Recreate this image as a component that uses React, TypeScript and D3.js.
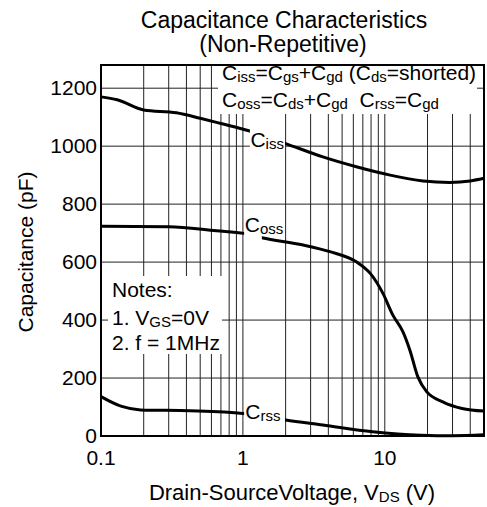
import React from 'react';
import * as d3 from 'd3';

// capacitance curves (V_DS in volts, C in pF)
const issVolts = [0.1, 0.13, 0.2, 0.34, 0.5, 0.7, 1.1, 2, 3.66, 6.3, 10.9, 18.6, 28.7, 40, 50];
const issValues = [1170, 1160, 1125, 1115, 1096, 1078, 1053, 1009, 963, 929, 900, 880, 875, 880, 889];

const ossVolts = [0.1, 0.3, 0.65, 1.02, 1.36, 2.66, 4.1, 6.3, 7.9, 9.7, 11.4, 13.4, 15, 17.1, 19.7, 25.6, 35, 50];
const ossValues = [724, 722, 708, 699, 684, 659, 636, 601, 561, 492, 417, 360, 297, 204, 153, 118, 95, 86];

const rssVolts = [0.1, 0.14, 0.19, 0.42, 1, 2, 3.66, 8.2, 18, 30, 50];
const rssValues = [136, 102, 90, 87, 78, 55, 38, 15, 3, 1, 4];

const yTicks = [0, 200, 400, 600, 800, 1000, 1200];
const xTickLabels = [0.1, 1, 10];

const W = 487;
const H = 507;
const font = '"Liberation Sans", Arial, Helvetica, sans-serif';

const Sub = ({ children }: { children: string }) => (
  <tspan fontSize={15} dy={2}>{children}</tspan>
);
const Up = ({ children }: { children: string }) => (
  <tspan dy={-2}>{children}</tspan>
);

export default function App() {
  const x = d3.scaleLog().domain([0.1, 50]).range([101, 484]);
  const y = d3.scaleLinear().domain([0, 1280]).range([436, 65]);

  const gridX: number[] = [];
  [0.1, 1, 10].forEach(d => {
    for (let k = 1; k < 10; k++) {
      const v = d * k;
      if (v > 0.1 && v < 50) gridX.push(v);
    }
  });

  const line = (xs: number[], ys: number[]) =>
    d3.line<number>()
      .x((_, i) => x(xs[i]))
      .y(d => y(d))
      .curve(d3.curveMonotoneX)(ys) || '';

  const curves = [
    { xs: issVolts, ys: issValues },
    { xs: ossVolts, ys: ossValues },
    { xs: rssVolts, ys: rssValues },
  ];

  // white gaps where curve labels sit: [x0, x1, yTop, yBottom] in data units
  const gaps = [
    [1.12, 1.98, 1080, 985],
    [1.02, 1.36, 755, 665],
    [1.02, 1.98, 115, 40],
  ];

  return (
    <svg width={W} height={H} style={{ position: 'absolute', left: 0, top: 0 }} fontFamily={font}>
      <rect width={W} height={H} fill="#fff" />
      {/* grid */}
      <g stroke="#222" strokeWidth={1}>
        {gridX.map(v => (
          <line key={'gx' + v} x1={x(v)} x2={x(v)} y1={y(0)} y2={y(1280)} />
        ))}
        {yTicks.filter(v => v > 0).map(v => (
          <line key={'gy' + v} x1={x(0.1)} x2={x(50)} y1={y(v)} y2={y(v)} />
        ))}
      </g>

      {/* legend box */}
      <rect x={218} y={66} width={259} height={48} fill="#fff" />
      {/* notes box */}
      <rect x={108} y={276} width={114} height={78} fill="#fff" />

      {/* curves */}
      <g fill="none" stroke="#000" strokeWidth={3}>
        {curves.map((c, i) => (
          <path key={i} d={line(c.xs, c.ys)} />
        ))}
      </g>
      {gaps.map((g, i) => (
        <rect key={i} x={x(g[0])} y={y(g[2])} width={x(g[1]) - x(g[0])} height={y(g[3]) - y(g[2])} fill="#fff" />
      ))}

      {/* frame */}
      <rect x={x(0.1)} y={y(1280)} width={x(50) - x(0.1)} height={y(0) - y(1280)} fill="none" stroke="#000" strokeWidth={2} />

      {/* curve labels */}
      <g fontSize={21} fill="#000">
        <text x={x(1.13)} y={y(1000) + 1}>C<Sub>iss</Sub></text>
        <text x={x(1.03)} y={y(700) - 1}>C<Sub>oss</Sub></text>
        <text x={x(1.04)} y={y(60)}>C<Sub>rss</Sub></text>
      </g>

      {/* legend text */}
      <g fontSize={21} fill="#000">
        <text x={222} y={80}>
          C<Sub>iss</Sub><Up>=C</Up><Sub>gs</Sub><Up>+C</Up><Sub>gd</Sub><Up> (C</Up><Sub>ds</Sub><Up>=shorted)</Up>
        </text>
        <text x={222} y={107}>
          C<Sub>oss</Sub><Up>=C</Up><Sub>ds</Sub><Up>+C</Up><Sub>gd</Sub><Up>{'\u00a0\u00a0C'}</Up><Sub>rss</Sub><Up>=C</Up><Sub>gd</Sub>
        </text>
      </g>

      {/* notes */}
      <g fontSize={21} fill="#000">
        <text x={112} y={297}>Notes:</text>
        <text x={112} y={325}>1. V<Sub>GS</Sub><Up>=0V</Up></text>
        <text x={112} y={350}>2. f = 1MHz</text>
      </g>

      {/* y ticks */}
      <g fontSize={21} textAnchor="end" fill="#000">
        {yTicks.map(v => (
          <text key={v} x={97} y={y(v) + 7}>{v}</text>
        ))}
      </g>
      {/* x ticks */}
      <g fontSize={21} textAnchor="middle" fill="#000">
        {xTickLabels.map(v => (
          <text key={v} x={x(v)} y={465}>{v}</text>
        ))}
      </g>

      {/* titles */}
      <g fontSize={23} textAnchor="middle" fill="#000">
        <text x={284} y={28}>Capacitance Characteristics</text>
        <text x={283} y={52}>(Non-Repetitive)</text>
      </g>
      <text x={292} y={500} fontSize={22} textAnchor="middle">
        Drain-SourceVoltage, V<Sub>DS</Sub><Up> (V)</Up>
      </text>
      <text transform="translate(33,252) rotate(-90)" fontSize={21} textAnchor="middle">
        Capacitance (pF)
      </text>
    </svg>
  );
}
